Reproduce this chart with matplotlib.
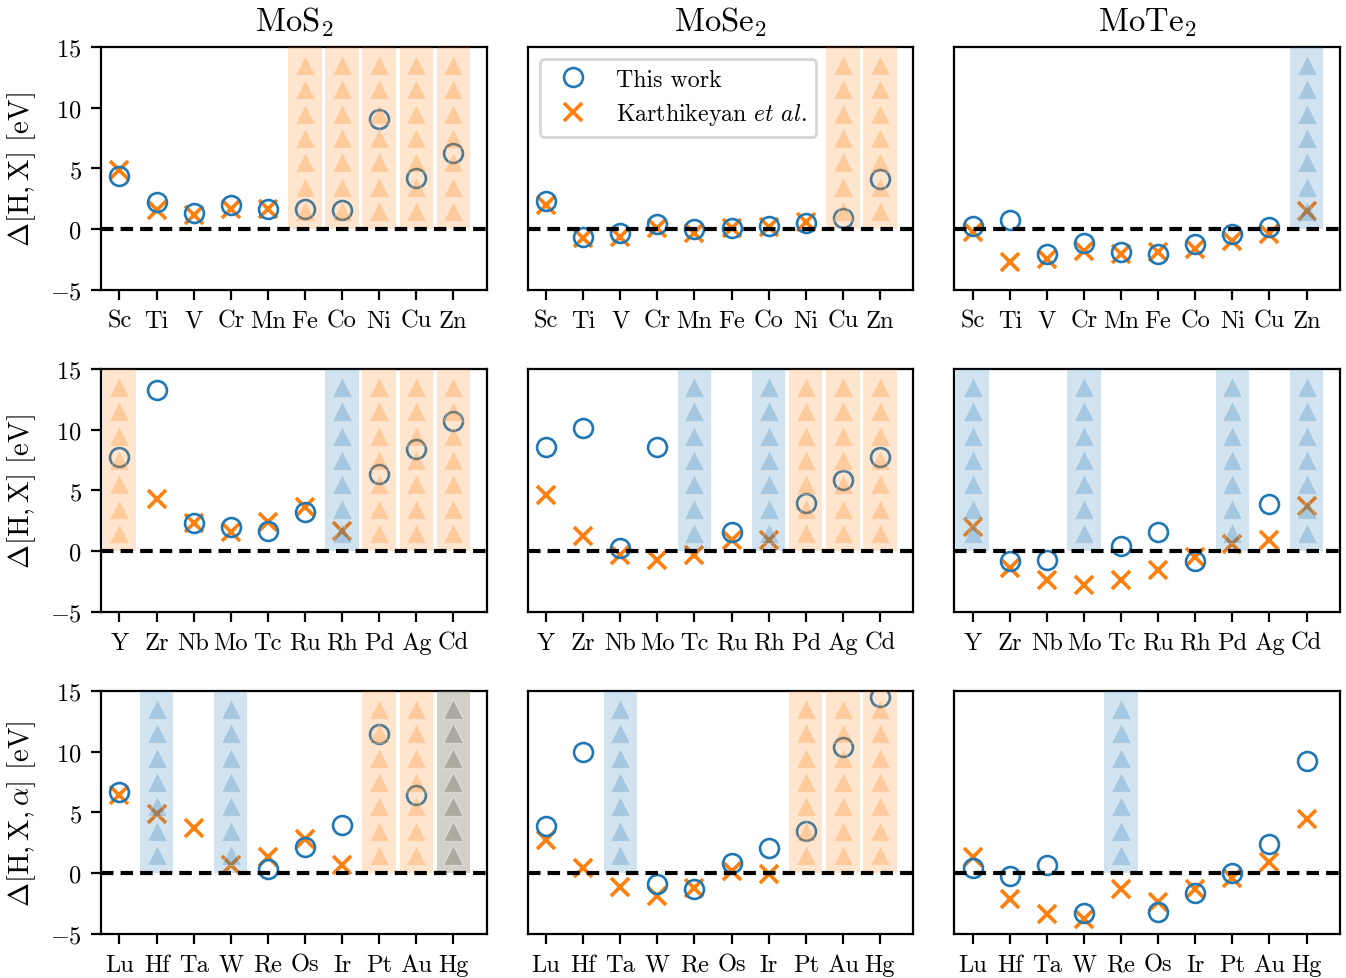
import numpy as np
import matplotlib
matplotlib.use("Agg")
import matplotlib.pyplot as plt

nan = np.nan

# elementi per riga
el_3d = ["Sc", "Ti", "V", "Cr", "Mn", "Fe", "Co", "Ni", "Cu", "Zn"]
el_4d = ["Y", "Zr", "Nb", "Mo", "Tc", "Ru", "Rh", "Pd", "Ag", "Cd"]
el_5d = ["Lu", "Hf", "Ta", "W", "Re", "Os", "Ir", "Pt", "Au", "Hg"]

# MoS2
ours_mos2_3d = [4.4, 2.2, 1.3, 2.0, 1.7, 1.65, 1.55, 9.1, 4.25, 6.25]
karth_mos2_3d = [4.9, 1.6, 1.2, 1.7, 1.7, nan, nan, nan, nan, nan]
ours_mos2_4d = [7.75, 13.3, 2.3, 2.0, 1.7, 3.2, nan, 6.35, 8.4, 10.7]
karth_mos2_4d = [nan, 4.3, 2.3, 1.55, 2.4, 3.6, 1.7, nan, nan, nan]
ours_mos2_5d = [6.65, nan, nan, nan, 0.35, 2.15, 3.95, 11.45, 6.45, nan]
karth_mos2_5d = [6.45, 4.9, 3.75, 0.7, 1.35, 2.8, 0.7, nan, nan, nan]

# MoSe2
ours_mose2_3d = [2.3, -0.6, -0.3, 0.4, 0.0, 0.1, 0.3, 0.5, 0.9, 4.1]
karth_mose2_3d = [2.0, -0.7, -0.6, 0.1, -0.3, 0.1, 0.2, 0.6, nan, nan]
ours_mose2_4d = [8.55, 10.15, 0.3, 8.55, nan, 1.55, nan, 4.0, 5.9, 7.75]
karth_mose2_4d = [4.65, 1.25, -0.35, -0.75, -0.35, 0.9, 0.9, nan, nan, nan]
ours_mose2_5d = [3.9, 9.95, nan, -0.9, -1.3, 0.8, 2.1, 3.5, 10.4, 14.5]
karth_mose2_5d = [2.7, 0.4, -1.15, -1.9, -1.25, 0.2, -0.1, nan, nan, nan]

# MoTe2
ours_mote2_3d = [0.3, 0.8, -2.0, -1.1, -1.85, -2.0, -1.2, -0.4, 0.2, nan]
karth_mote2_3d = [-0.25, -2.7, -2.45, -1.8, -2.05, -1.9, -1.65, -0.95, -0.4, 1.5]
ours_mote2_4d = [nan, -0.8, -0.7, nan, 0.4, 1.6, -0.8, nan, 3.85, nan]
karth_mote2_4d = [2.0, -1.35, -2.4, -2.8, -2.4, -1.55, -0.45, 0.6, 0.9, 3.75]
ours_mote2_5d = [0.4, -0.2, 0.7, -3.25, nan, -3.2, -1.65, 0.05, 2.4, 9.2]
karth_mote2_5d = [1.3, -2.1, -3.35, -3.8, -1.3, -2.35, -1.3, -0.4, 0.95, 4.45]

# colonne fuori scala (arancio = Karthikeyan, blu = questo lavoro)
orange_mos2 = [["Fe", "Co", "Ni", "Cu", "Zn"], ["Y", "Pd", "Ag", "Cd"], ["Pt", "Au", "Hg"]]
blue_mos2 = [[], ["Rh"], ["Hf", "W", "Hg"]]
orange_mose2 = [["Cu", "Zn"], ["Pd", "Ag", "Cd"], ["Pt", "Au", "Hg"]]
blue_mose2 = [[], ["Tc", "Rh"], ["Ta"]]
orange_mote2 = [[], [], []]
blue_mote2 = [["Zn"], ["Y", "Mo", "Pd", "Cd"], ["Re"]]

titles = ["MoS$_2$", "MoSe$_2$", "MoTe$_2$"]
elementi = [el_3d, el_4d, el_5d]
ours = [[ours_mos2_3d, ours_mos2_4d, ours_mos2_5d],
        [ours_mose2_3d, ours_mose2_4d, ours_mose2_5d],
        [ours_mote2_3d, ours_mote2_4d, ours_mote2_5d]]
karth = [[karth_mos2_3d, karth_mos2_4d, karth_mos2_5d],
         [karth_mose2_3d, karth_mose2_4d, karth_mose2_5d],
         [karth_mote2_3d, karth_mote2_4d, karth_mote2_5d]]
orange = [orange_mos2, orange_mose2, orange_mote2]
blue = [blue_mos2, blue_mose2, blue_mote2]

plt.rcParams["font.family"] = "cmr10"
plt.rcParams["mathtext.fontset"] = "cm"
plt.rcParams["axes.formatter.use_mathtext"] = True
plt.rcParams["font.size"] = 8.8

fig, axs = plt.subplots(3, 3, figsize=(6.73, 4.895), dpi=200)
fig.subplots_adjust(left=0.075, right=0.9955, top=0.951, bottom=0.045,
                    wspace=0.106, hspace=0.325)

ylabels = [r"$\Delta[\mathrm{H},\mathrm{X}]$ [eV]",
           r"$\Delta[\mathrm{H},\mathrm{X}]$ [eV]",
           r"$\Delta[\mathrm{H},\mathrm{X},\alpha]$ [eV]"]
tri_y = np.arange(1.5, 14, 2)

for c in range(3):
    for r in range(3):
        ax = axs[r, c]
        x = np.arange(len(elementi[r]))
        ax.plot(x, karth[c][r], "x", color="C1", ms=6.5, mew=1.3, zorder=2,
                label=r"Karthikeyan $\mathit{et\ al.}$")
        ax.plot(x, ours[c][r], "o", color="C0", mfc="none", ms=6.8, mew=0.95,
                zorder=2.1, label="This work")
        for lista, col in [(orange[c][r], "C1"), (blue[c][r], "C0")]:
            for el in lista:
                xi = elementi[r].index(el)
                ax.bar(xi, 15, bottom=0, width=0.9, color=col, alpha=0.2,
                       lw=0, zorder=3)
                ax.plot([xi] * len(tri_y), tri_y, "^", mfc=col, mec="white",
                        alpha=0.25, ms=7.2, mew=0.5, zorder=3.1)
        ax.axhline(0, color="k", lw=1.5, ls=(0, (3.0, 1.7)), zorder=4)
        ax.set_xlim(-0.5, 9.9)
        ax.set_ylim(-5, 15)
        ax.set_yticks([-5, 0, 5, 10, 15])
        ax.set_xticks(x)
        ax.set_xticklabels(elementi[r])
        if c == 0:
            ax.set_ylabel(ylabels[r], fontsize=10.4)
        else:
            ax.tick_params(left=False, labelleft=False)
        if r == 0:
            ax.set_title(titles[c], fontsize=11.8)

h, l = axs[0, 1].get_legend_handles_labels()
axs[0, 1].legend(h[::-1], l[::-1], loc="upper left", fontsize=8.6,
                 labelspacing=0.4)

fig.savefig("out.png", dpi=200)
